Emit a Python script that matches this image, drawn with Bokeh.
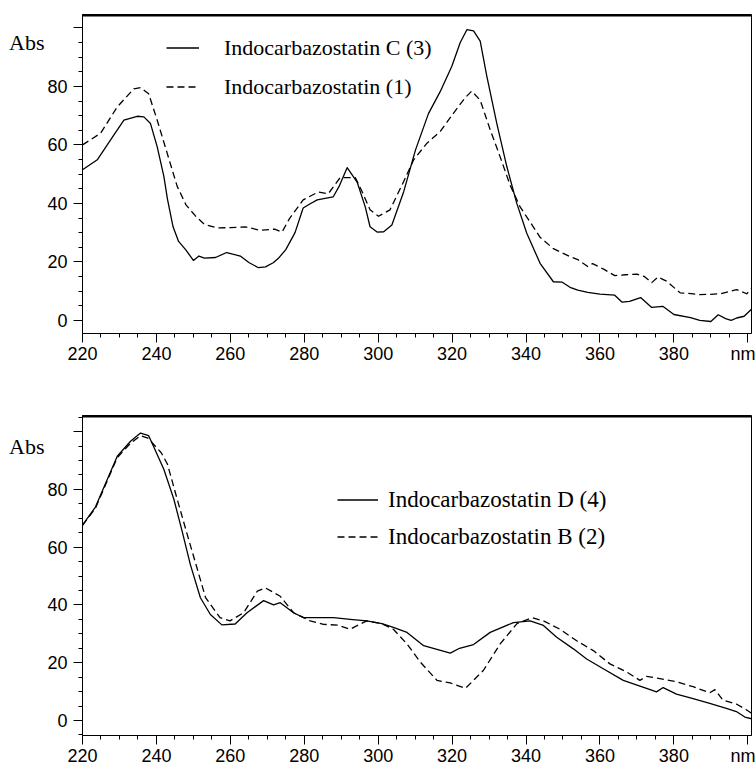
from bokeh.plotting import figure
from bokeh.models import Range1d, FixedTicker, Legend, LegendItem, Span, LinearAxis
from bokeh.layouts import column
from bokeh.embed import file_html
from bokeh.resources import INLINE

# ---------------- data ----------------
x_ticks = [220, 240, 260, 280, 300, 320, 340, 360, 380, 400]
x_tick_labels = {400: "nm"}
y_ticks = [0, 20, 40, 60, 80, 100]
y_tick_labels = {100: ""}
y_title_pos = [95]
y_title = {95: "Abs"}

# Top panel: Indocarbazostatin C (3)
top_c_nm = [220, 224, 227.6, 231.2, 234.8, 236.6, 238.4, 240.2, 242, 243,
            244.5, 246, 248, 250, 251.5, 253, 256, 259, 262.7, 265,
            267.6, 269.5, 271.6, 273, 275, 277.5, 279.7, 281.5, 283.5, 287.8,
            289.5, 291.6, 294.3, 296.5, 297.8, 299.7, 301.5, 303.7, 306.9, 310.1,
            313.6, 316.8, 319.9, 322.2, 324, 325.8, 327.6, 329.4, 332.1, 334.8,
            337.5, 340.2, 343.8, 347.4, 349.7, 351.9, 354, 356.7, 360, 364,
            366, 368, 371, 374, 377, 380, 384.5, 387, 390, 392,
            394, 395.5, 397, 399, 401]
top_c_abs = [51.5, 54.9, 61.7, 68.5, 69.8, 69.6, 67.3, 59.4, 49.3, 41.4,
             32, 27, 24, 20.5, 22, 21.3, 21.5, 23.2, 22, 19.8,
             18, 18.3, 19.7, 21.2, 24.2, 30, 38.4, 39.8, 41.2, 42.2,
             46, 52.2, 47.3, 38.8, 32, 30.2, 30.3, 32.6, 44, 58.3,
             70.7, 78.3, 86.8, 95, 99.4, 99, 95.5, 83.4, 67.3, 52.6,
             40, 29.8, 19.5, 13.2, 13.1, 11.3, 10.3, 9.6, 9, 8.6,
             6.2, 6.5, 7.8, 4.4, 4.8, 2, 0.9, 0, -0.4, 1.9,
             0.6, 0, 0.8, 1.4, 3.8]

# Top panel: Indocarbazostatin (1)
top_1_nm = [220, 224.9, 229.4, 233.9, 235.7, 237.9, 240.2, 242.9, 245.6, 248,
            250.5, 253, 256.5, 260, 264, 268, 272, 274, 276, 279.7,
            283.8, 286.5, 289.7, 293.8, 295.7, 297.8, 300.1, 303.2, 306.9, 309.6,
            313.2, 316.8, 320.4, 323.5, 325.3, 327.6, 330.3, 333, 335.7, 338.4,
            342, 343.8, 347.4, 351.9, 354, 356.7, 358, 361, 364, 367,
            370, 372, 374, 375.7, 378, 381.7, 384, 387, 390, 392.6,
            395, 397, 399.7, 401]
top_1_abs = [60, 64, 73, 79.2, 79.6, 77.5, 68.5, 57.2, 45.9, 39.5,
             35.8, 32.8, 31.6, 31.7, 32, 30.8, 31.2, 30.2, 34.8, 41.2,
             43.9, 43.3, 48.8, 48.8, 43.9, 37.8, 35.6, 37.8, 47.5, 54.9,
             60.6, 64.6, 70.9, 76.1, 78.4, 75.3, 65.2, 55.9, 46.2, 38.8,
             31.9, 28.4, 24.5, 21.8, 20.8, 18.4, 19.4, 17.5, 15.3, 15.6,
             15.8, 15, 12.9, 14.8, 13.4, 9.4, 9.2, 8.8, 8.9, 9.1,
             9.9, 10.5, 9.1, 10.8]

# Bottom panel: Indocarbazostatin D (4)
bot_d_nm = [220, 223.5, 229.4, 233, 235.7, 237.9, 238.8, 242, 244.7, 247,
            249.2, 251.9, 254.6, 257.7, 261.3, 264.5, 269, 271.7, 273.5, 277.1,
            279.8, 284, 287.9, 292.4, 296.9, 301, 304.1, 307.8, 312.3, 319.5,
            322, 325.8, 330.3, 336.6, 341.1, 344.7, 348.3, 352.8, 356.4, 360.9,
            366.3, 372.6, 375.3, 377.1, 380.7, 385.2, 389.7, 394.2, 396.9, 399.2,
            401]
bot_d_abs = [67.6, 73.9, 91.5, 96.7, 99.5, 98.6, 96.1, 87, 76.7, 65.3,
             53.9, 42.5, 36.7, 33.1, 33.4, 37.3, 41.5, 40, 40.8, 37.3,
             35.6, 35.6, 35.6, 35, 34.5, 33.5, 32.2, 30.5, 25.9, 23.3,
             25, 26.3, 30.5, 33.9, 34.5, 32.9, 28.8, 24.8, 21.3, 17.9,
             13.9, 11.1, 9.9, 11.4, 9.1, 7.6, 5.9, 4.2, 3.1, 1.2,
             0.6]

# Bottom panel: Indocarbazostatin B (2)
bot_b_nm = [220, 223.5, 229.4, 233, 235.7, 237.7, 241.3, 243, 245.6, 248.4, 251,
            253.3, 257.2, 259.9, 263.6, 267.3, 269.5, 273.5, 277.1, 281.6, 285.2,
            289, 292.4, 296.9, 301, 304.1, 307.8, 311.4, 315.9, 319.5, 323.6,
            328.5, 333, 337.6, 341.6, 344.7, 349.2, 353.7, 358.2, 362.7, 367.2,
            370.8, 372.6, 376.2, 380.7, 385.2, 389.7, 391.1, 393.3, 396.9, 399.5,
            401]
bot_b_abs = [67.6, 73.5, 91, 96, 98.6, 97.8, 92.7, 88.7, 76.7, 64.1, 52.7,
             42.5, 35.6, 34.5, 37.3, 44.8, 45.9, 43, 37.3, 34.5, 33.3,
             33, 31.6, 34.5, 33.5, 31.6, 26.5, 20.2, 13.9, 13, 11.1,
             17.4, 26.5, 33.6, 35.6, 34.5, 31.6, 27.6, 24.2, 19.6, 16.8,
             13.9, 15.3, 14.5, 13.4, 11.7, 9.6, 10.7, 7, 5.7, 3.8,
             2.5]

top_labels = ["Indocarbazostatin C (3)", "Indocarbazostatin (1)"]
bot_labels = ["Indocarbazostatin D (4)", "Indocarbazostatin B (2)"]

TICK_FONT = "Liberation Sans"
SERIF = "Liberation Serif"


def make_panel(height, border_top, border_bottom, y_lo, y_hi):
    p = figure(width=755, height=height, output_backend="svg", toolbar_location=None,
               x_range=Range1d(220, 401), y_range=Range1d(y_lo, y_hi),
               min_border_left=82, min_border_right=4,
               min_border_top=border_top, min_border_bottom=border_bottom,
               background_fill_color="white", border_fill_color="white")
    p.grid.visible = False
    p.outline_line_color = "black"
    p.outline_line_width = 1
    p.outline_line_alpha = 1

    p.xaxis.ticker = FixedTicker(ticks=x_ticks, minor_ticks=list(range(220, 405, 5)))
    p.xaxis.major_label_overrides = x_tick_labels
    p.yaxis.ticker = FixedTicker(ticks=y_ticks, minor_ticks=list(range(-5, 110, 5)))
    p.yaxis.major_label_overrides = y_tick_labels
    for ax in (p.xaxis[0], p.yaxis[0]):
        ax.axis_line_color = "black"
        ax.axis_line_width = 1
        ax.major_tick_line_color = "black"
        ax.minor_tick_line_color = "black"
        ax.major_tick_in = 0
        ax.minor_tick_in = 0
        ax.major_tick_out = 9
        ax.minor_tick_out = 4
        ax.major_label_text_font = TICK_FONT
        ax.major_label_text_font_size = "18px"
        ax.major_label_text_color = "black"
    p.yaxis.major_label_standoff = 6
    p.xaxis.major_label_standoff = 1

    # "Abs" title drawn as a second, tick-less left axis
    abs_axis = LinearAxis(ticker=FixedTicker(ticks=y_title_pos, minor_ticks=[]),
                          major_label_overrides=y_title,
                          axis_line_color=None, major_tick_line_color=None,
                          minor_tick_line_color=None, major_tick_out=0, minor_tick_out=0,
                          major_label_standoff=0,
                          major_label_text_font=SERIF,
                          major_label_text_font_size="22px",
                          major_label_text_color="black")
    p.add_layout(abs_axis, "left")

    p.add_layout(Span(location=y_hi, dimension="width", line_color="black", line_width=4))
    return p


top = make_panel(390, 14, 57, -4.5, 104.6)
r_c = top.line(top_c_nm, top_c_abs, line_color="black", line_width=1.3, line_join="round")
r_1 = top.line(top_1_nm, top_1_abs, line_color="black", line_width=1.3,
               line_dash="7 4", line_join="round")
leg_top = Legend(items=[LegendItem(label=top_labels[0], renderers=[r_c]),
                        LegendItem(label=top_labels[1], renderers=[r_1])],
                 location=(84, 229), padding=0, margin=0, spacing=4,
                 glyph_width=33, glyph_height=35, label_height=25, label_standoff=25,
                 label_text_font=SERIF, label_text_font_size="22px",
                 label_text_color="black", border_line_color=None,
                 background_fill_alpha=0)
top.add_layout(leg_top)

bot = make_panel(378, 25, 30, -5.2, 105.6)
r_d = bot.line(bot_d_nm, bot_d_abs, line_color="black", line_width=1.3, line_join="round")
r_b = bot.line(bot_b_nm, bot_b_abs, line_color="black", line_width=1.3,
               line_dash="7 4", line_join="round")
leg_bot = Legend(items=[LegendItem(label=bot_labels[0], renderers=[r_d]),
                        LegendItem(label=bot_labels[1], renderers=[r_b])],
                 location=(255, 181), padding=0, margin=0, spacing=2,
                 glyph_width=41, glyph_height=35, label_height=25, label_standoff=10,
                 label_text_font=SERIF, label_text_font_size="23px",
                 label_text_color="black", border_line_color=None,
                 background_fill_alpha=0)
bot.add_layout(leg_bot)

layout = column(top, bot, spacing=0)
open("out.html", "w").write(file_html(layout, INLINE))
